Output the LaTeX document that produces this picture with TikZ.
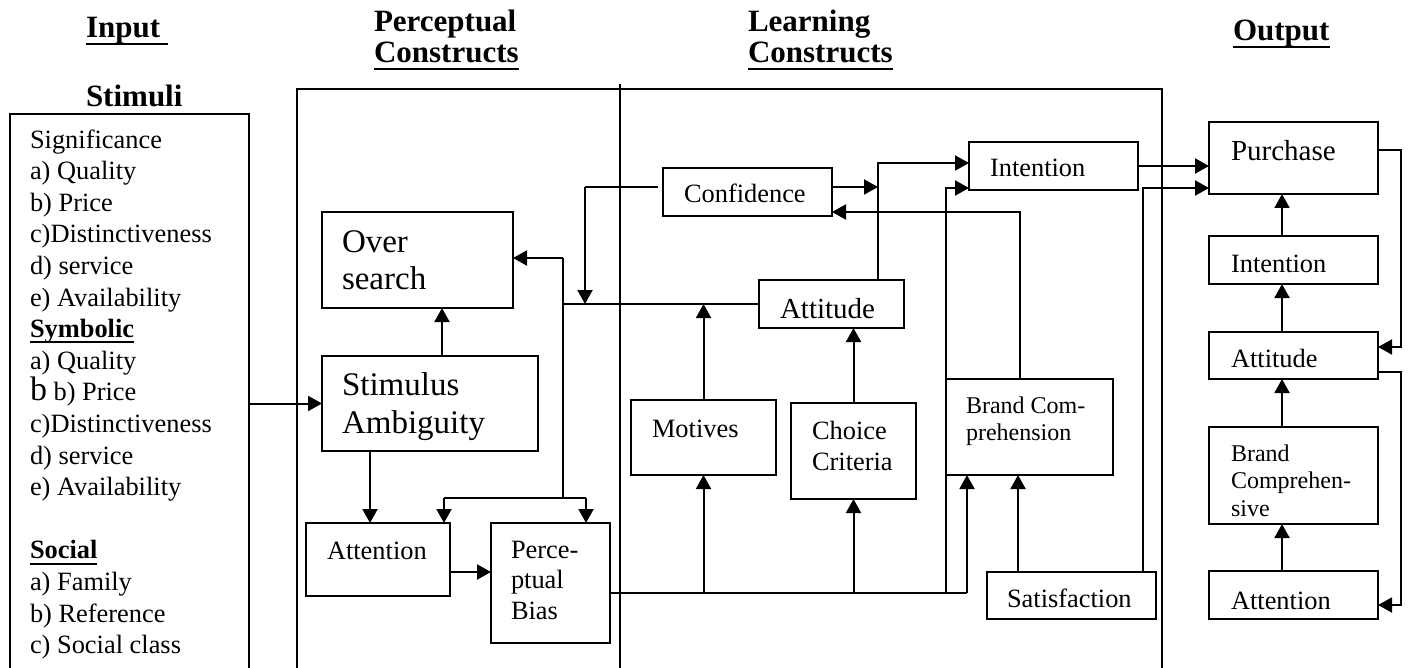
\documentclass[tikz,border=0pt]{standalone}
\usepackage{fontspec}
\setmainfont{Liberation Serif}
\usetikzlibrary{arrows.meta}
\newsavebox\ulbox
\newcommand\myul[1]{\sbox\ulbox{#1}\rlap{\rule[-0.22em]{\wd\ulbox}{1pt}}\usebox\ulbox}
\tikzset{
  bxs/.style={draw, line width=0.8pt, inner sep=0pt, outer sep=0pt, rectangle},
  txs/.style={inner sep=0pt, outer sep=0pt, anchor=north west, align=left},
  arr/.style={line width=1pt, -{Triangle[length=7pt,width=7.5pt]}},
  ln/.style={line width=1pt}
}
\newcommand\mkbox[5]{%
  \pgfmathsetmacro\bxw{(#4-#2)*0.5}%
  \pgfmathsetmacro\bxh{(#5-#3)*0.5}%
  \node[bxs, minimum width=\bxw pt, minimum height=\bxh pt] (#1) at ({(#2+#4)/2},{(#3+#5)/2}) {};}
\newcommand\mktext[7][]{%
  \pgfmathsetmacro\tyy{#4-1.6*#5}%
  \node[txs, font={\fontsize{#5}{#6}\selectfont#1}] (#2) at (#3,\tyy) {\rule{0pt}{0.8em}#7};}
\begin{document}
\begin{tikzpicture}[x=0.5pt,y=-0.5pt]
\useasboundingbox (0,0) rectangle (1411,668);

% headers
\mktext[\bfseries]{hin}{86}{38}{15.5}{15.5}{\myul{Input\ }}
\mktext[\bfseries]{hst}{86}{107}{15.5}{15.5}{Stimuli}
\mktext[\bfseries]{hpc}{374}{32}{15.5}{15.5}{Perceptual\\\myul{Constructs}}
\mktext[\bfseries]{hlc}{748}{32}{15.5}{15.5}{Learning\\\myul{Constructs}}
\mktext[\bfseries]{hout}{1233}{41}{15.5}{15.5}{\myul{Output}}

% frames
\mkbox{inp}{10}{114}{249}{700}
\mkbox{frame}{297}{89}{1162}{700}
\draw[ln] (620,84) -- (620,700);

% input text
\mktext{tinp}{30}{148}{13.2}{15.8}{Significance\\a) Quality\\b) Price\\c)Distinctiveness\\d) service\\e) Availability\\\myul{\textbf{Symbolic}}\\a) Quality\\{\fontsize{17}{15.8}\selectfont b} b) Price\\c)Distinctiveness\\d) service\\e) Availability\\[15.8pt]\myul{\textbf{Social}}\\a) Family\\b) Reference\\c) Social class}

% boxes
\mkbox{os}{322}{212}{513}{308}
\mkbox{sa}{322}{356}{538}{451}
\mkbox{att1}{306}{523}{450}{596}
\mkbox{pb}{491}{523}{610}{643}
\mkbox{conf}{663}{168}{832}{216}
\mkbox{att2}{759}{280}{904}{328}
\mkbox{mot}{631}{400}{776}{475}
\mkbox{ch}{791}{403}{916}{499}
\mkbox{int1}{969}{142}{1138}{190}
\mkbox{bc}{946}{379}{1113}{475}
\mkbox{sat}{987}{572}{1156}{619}
\mkbox{pur}{1209}{122}{1378}{194}
\mkbox{int2}{1209}{236}{1378}{284}
\mkbox{att3}{1209}{332}{1378}{379}
\mkbox{bc2}{1209}{427}{1378}{524}
\mkbox{att4}{1209}{571}{1378}{619}

% box texts
\mktext{tos}{342}{252}{16.5}{18.5}{Over\\search}
\mktext{tsa}{342}{395}{16.5}{19}{Stimulus\\Ambiguity}
\mktext{tatt1}{327}{559}{13.2}{15}{Attention}
\mktext{tpb}{511}{558}{13.2}{15.3}{Perce-\\ptual\\Bias}
\mktext{tconf}{684}{203}{13.2}{15}{Confidence}
\mktext{tatt2}{780}{318}{14.5}{15}{Attitude}
\mktext{tmot}{652}{437}{13.2}{15}{Motives}
\mktext{tch}{812}{439}{13.2}{15.5}{Choice\\Criteria}
\mktext{tint1}{990}{177}{13.2}{15}{Intention}
\mktext{tbc}{966}{413}{12}{13.5}{Brand Com-\\prehension}
\mktext{tsat}{1007}{607}{13.2}{15}{Satisfaction}
\mktext{tpur}{1231}{161}{14.5}{15}{Purchase}
\mktext{tint2}{1231}{272}{13.2}{15}{Intention}
\mktext{tatt3}{1231}{367}{13.2}{15}{Attitude}
\mktext{tbc2}{1231}{461}{12}{13.8}{Brand\\Comprehen-\\sive}
\mktext{tatt4}{1231}{609}{13.2}{15}{Attention}

% junction coordinates
\coordinate (fbT) at (563,258);
\coordinate (fbB) at (563,498);
\coordinate (fbL) at (444,498);
\coordinate (fbR) at (586,498);
\coordinate (cfL) at (585,187);
\coordinate (aU) at (878,163);
\coordinate (bcU) at (1020,212);
\coordinate (b1) at (946,593);
\coordinate (b2) at (967,593);
\coordinate (b3) at (946,188);
\coordinate (s0) at (1018,0);
\coordinate (s1) at (1143,188);
\coordinate (xo) at (1282,0);
\coordinate (x442) at (442,0);
\coordinate (x370) at (370,0);
\coordinate (y572) at (0,572);
\coordinate (r1) at (1401,150);
\coordinate (r1b) at (1401,347);
\coordinate (r2) at (1401,372);
\coordinate (r2b) at (1401,605);

% perceptual connectors
\draw[arr] (inp.east |- sa.west) -- (sa.west);
\draw[arr] (x442 |- sa.north) -- (x442 |- os.south);
\draw[arr] (x370 |- sa.south) -- (x370 |- att1.north);
\draw[arr] (att1.east |- y572) -- (pb.west |- y572);
\draw[ln] (att2.west) -- (fbT |- att2.west);
\draw[arr] (fbT) -- (os.east |- fbT);
\draw[ln] (fbT) -- (fbB);
\draw[ln] (fbL) -- (fbR);
\draw[arr] (fbL) -- (att1.north -| fbL);
\draw[arr] (fbR) -- (pb.north -| fbR);

% learning connectors
\draw[ln] ([xshift=-2.5pt]conf.west |- cfL) -- (cfL);
\draw[arr] (cfL) -- (cfL |- att2.west);
\draw[arr] (conf.east |- cfL) -- (aU |- cfL);
\draw[arr] (att2.north -| aU) -- (aU) -- (int1.west |- aU);
\draw[arr] (bc.north -| bcU) -- (bcU) -- (conf.east |- bcU);
\draw[ln] (pb.east |- b1) -- (b2);
\draw[arr] (b2) -- (bc.south -| b2);
\draw[arr] (b1) -- (b3) -- (int1.west |- b3);
\draw[arr] (mot.south |- b1) -- (mot.south);
\draw[arr] (ch.south |- b1) -- (ch.south);
\draw[arr] (mot.north) -- (mot.north |- att2.west);
\draw[arr] (ch.north) -- (ch.north |- att2.south);
\draw[arr] (sat.north -| s0) -- (bc.south -| s0);
\draw[arr] (sat.north -| s1) -- (s1) -- (pur.west |- s1);
\draw[arr] (int1.east) -- (pur.west |- int1.east);

% output connectors
\draw[arr] (xo |- int2.north) -- (xo |- pur.south);
\draw[arr] (xo |- att3.north) -- (xo |- int2.south);
\draw[arr] (xo |- bc2.north) -- (xo |- att3.south);
\draw[arr] (xo |- att4.north) -- (xo |- bc2.south);
\draw[arr] (pur.east |- r1) -- (r1) -- (r1b) -- (att3.east |- r1b);
\draw[arr] (att3.east |- r2) -- (r2) -- (r2b) -- (att4.east |- r2b);
\end{tikzpicture}
\end{document}
